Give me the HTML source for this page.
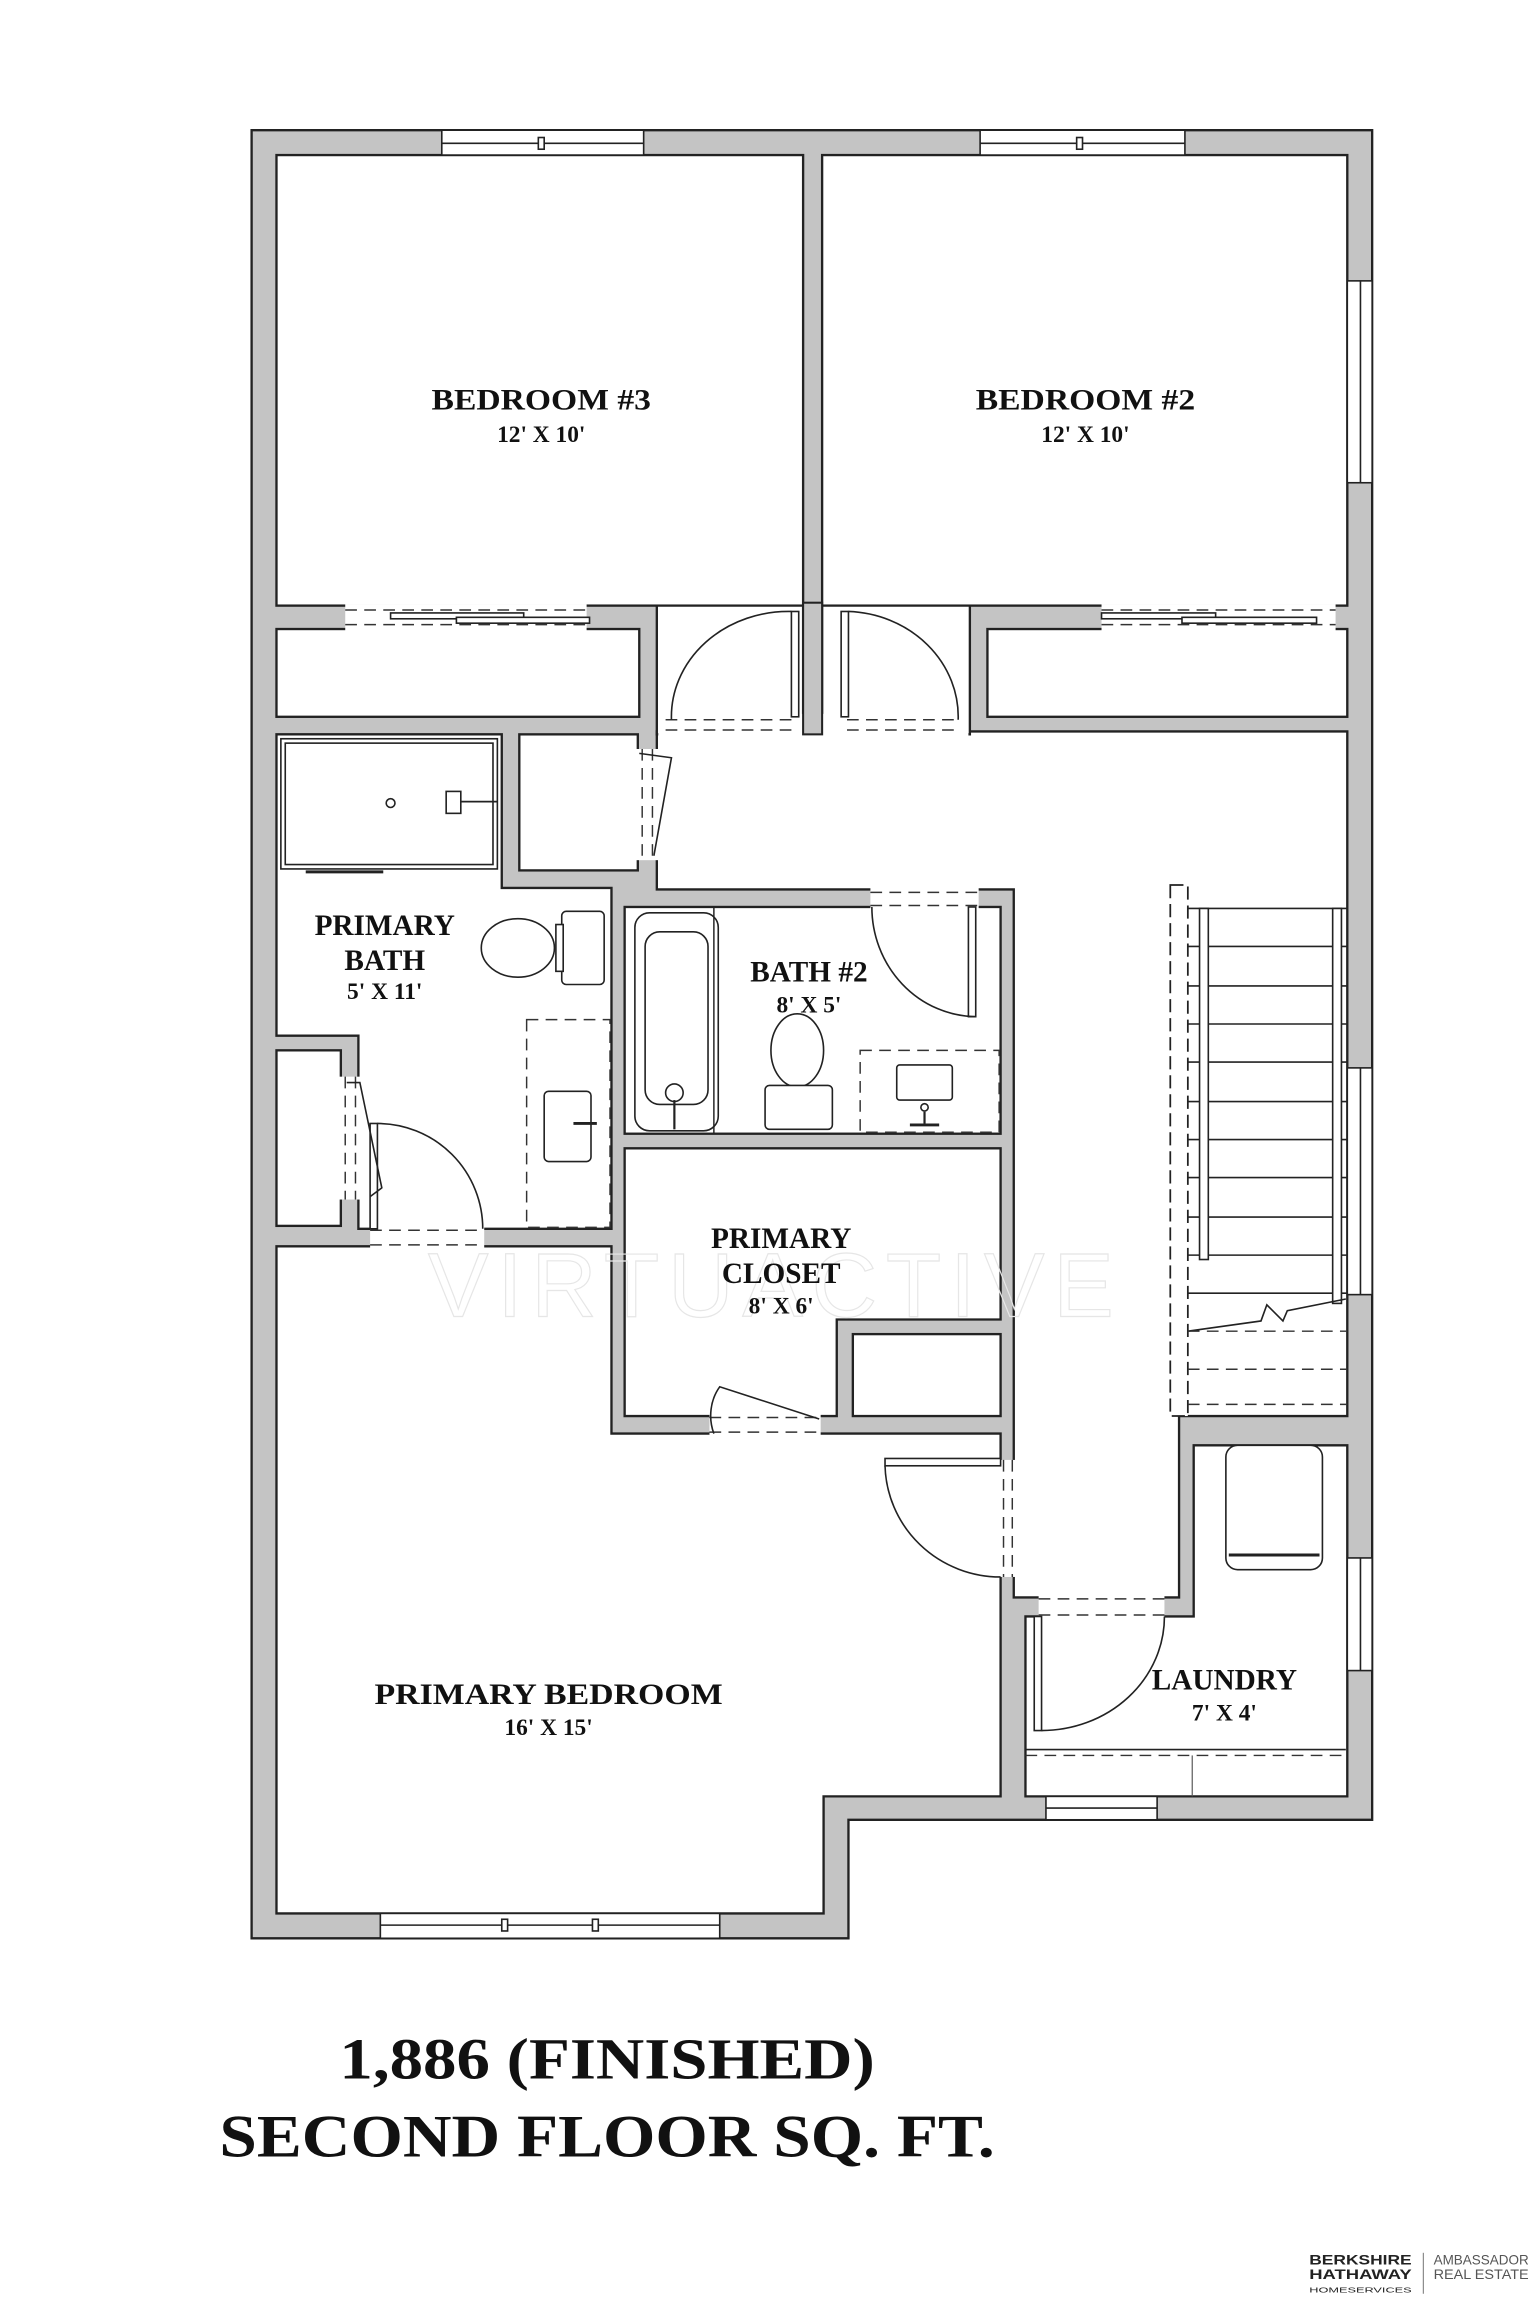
<!DOCTYPE html>
<html><head><meta charset="utf-8"><style>
html,body{margin:0;padding:0;background:#fff;}
svg{display:block;}
.w{fill:#c4c4c4;stroke:#222;stroke-width:1.6;stroke-linejoin:miter;}
.r{fill:#fff;stroke:#222;stroke-width:1.6;}
.t{font-family:"Liberation Serif",serif;font-weight:bold;fill:#111;text-anchor:middle;}
.ln{fill:none;stroke:#222;stroke-width:1.1;}
.ds{fill:none;stroke:#333;stroke-width:1;stroke-dasharray:8 5;}
.fx{fill:#fff;stroke:#222;stroke-width:1.1;}
</style></head><body>
<svg width="1536" height="2304" viewBox="0 0 1050 1575" xmlns="http://www.w3.org/2000/svg">
<rect width="1050" height="1575" fill="#fff"/>
<!-- footprint -->
<polygon class="w" points="172,89 938,89 938,1244 580,1244 580,1325 172,1325"/>
<!-- rooms -->
<rect class="r" x="189" y="106" width="360" height="308"/>
<rect class="r" x="562" y="106" width="359" height="308"/>
<rect class="r" x="189" y="430" width="248" height="60"/>
<rect class="r" x="675" y="430" width="246" height="60"/>
<polygon class="r" points="449,500 921,500 921,968 806,968 806,1092 693,1092 693,608 449,608"/>
<polygon class="r" points="449,502 449,414 549,414 549,490 562,490 562,414 663,414 663,502"/>
<rect x="450" y="488" width="212" height="16" fill="#fff"/>
<rect class="r" x="355" y="502" width="81" height="93"/>
<polygon class="r" points="189,502 343,502 343,607 418,607 418,840 245,840 245,708 189,708"/>
<rect class="r" x="189" y="718" width="44" height="120"/>
<rect class="r" x="427" y="620" width="257" height="155"/>
<polygon class="r" points="427,785 684,785 684,902 572,902 572,968 427,968"/>
<rect class="r" x="583" y="912" width="101" height="56"/>
<polygon class="r" points="189,852 418,852 418,980 684,980 684,1228 563,1228 563,1308 189,1308"/>
<polygon class="r" points="701,1105 816,1105 816,988 921,988 921,1228 701,1228"/>
<!-- bedroom divider stub -->
<rect x="549" y="412" width="13" height="90" fill="#c4c4c4" stroke="#222" stroke-width="1.4"/>
<!-- openings (white over walls) -->
<g fill="#fff" stroke="none">
<rect x="455" y="489" width="86" height="13"/>
<rect x="579" y="489" width="77" height="13"/>
<rect x="236" y="413" width="165" height="19"/>
<rect x="753" y="413" width="160" height="19"/>
<rect x="435" y="512" width="16" height="76"/>
<rect x="595" y="606" width="74" height="16"/>
<rect x="253" y="838" width="78" height="16"/>
<rect x="232" y="736" width="15" height="84"/>
<rect x="485" y="966" width="76" height="16"/>
<rect x="682" y="998" width="13" height="80"/>
<rect x="710" y="1090" width="86" height="17"/>
</g>
<g class="ds">
<line x1="455" y1="492" x2="541" y2="492"/><line x1="455" y1="499" x2="541" y2="499"/>
<line x1="579" y1="492" x2="656" y2="492"/><line x1="579" y1="499" x2="656" y2="499"/>
<line x1="236" y1="417" x2="401" y2="417"/><line x1="236" y1="427" x2="401" y2="427"/>
<line x1="753" y1="417" x2="913" y2="417"/><line x1="753" y1="427" x2="913" y2="427"/>
<line x1="439" y1="512" x2="439" y2="588"/><line x1="446" y1="512" x2="446" y2="588"/>
<line x1="595" y1="610" x2="669" y2="610"/><line x1="595" y1="619" x2="669" y2="619"/>
<line x1="253" y1="841" x2="331" y2="841"/><line x1="253" y1="851" x2="331" y2="851"/>
<line x1="236" y1="736" x2="236" y2="820"/><line x1="243" y1="736" x2="243" y2="820"/>
<line x1="485" y1="969" x2="561" y2="969"/><line x1="485" y1="979" x2="561" y2="979"/>
<line x1="686" y1="998" x2="686" y2="1078"/><line x1="692" y1="998" x2="692" y2="1078"/>
<line x1="710" y1="1093" x2="796" y2="1093"/><line x1="710" y1="1104" x2="796" y2="1104"/>
</g>
<!-- sliding closet panels -->
<rect class="fx" x="267" y="419" width="91" height="4"/><rect class="fx" x="312" y="422" width="91" height="4"/>
<rect class="fx" x="753" y="419" width="78" height="4"/><rect class="fx" x="808" y="422" width="92" height="4"/>
<!-- doors -->
<g class="ln">
<rect x="541" y="418" width="5" height="72" fill="#fff"/>
<path d="M541,418 A80,72 0 0 0 459,492"/>
<rect x="575" y="418" width="5" height="72" fill="#fff"/>
<path d="M580,418 A78,72 0 0 1 655,492"/>
<rect x="662" y="620" width="5" height="75" fill="#fff"/>
<path d="M596,620 A72,75 0 0 0 667,695"/>
<rect x="253" y="768" width="5" height="72" fill="#fff"/>
<path d="M258,768 A72,72 0 0 1 330,840"/>
<path d="M488,980 A25,30 0 0 1 492,948 L560,970"/>
<rect x="605" y="997" width="79" height="5" fill="#fff"/>
<path d="M605,1002 A79,78 0 0 0 684,1078"/>
<rect x="707" y="1105" width="5" height="78" fill="#fff"/>
<path d="M712,1183 A84,78 0 0 0 796,1105"/>
<path d="M437,515 L459,518 L447,585"/>
<path d="M237,740 L246,740 L261,812 L253,818"/>
</g>
<!-- windows -->
<g class="fx">
<rect x="302" y="89" width="138" height="17"/><line x1="302" y1="98" x2="440" y2="98"/><rect x="368" y="94" width="4" height="8"/>
<rect x="670" y="89" width="140" height="17"/><line x1="670" y1="98" x2="810" y2="98"/><rect x="736" y="94" width="4" height="8"/>
<rect x="921" y="192" width="17" height="138"/><line x1="930" y1="192" x2="930" y2="330"/>
<rect x="921" y="730" width="17" height="155"/><line x1="930" y1="730" x2="930" y2="885"/>
<rect x="921" y="1065" width="17" height="77"/><line x1="930" y1="1065" x2="930" y2="1142"/>
<rect x="715" y="1228" width="76" height="16"/><line x1="715" y1="1236" x2="791" y2="1236"/>
<rect x="260" y="1308" width="232" height="17"/><line x1="260" y1="1316" x2="492" y2="1316"/><rect x="343" y="1312" width="4" height="8"/><rect x="405" y="1312" width="4" height="8"/>
</g>
<!-- stair -->
<rect x="800" y="605" width="12" height="363" fill="#fff" stroke="#222" stroke-width="1.2" stroke-dasharray="9 4"/>
<g class="ln">
<line x1="812" y1="621" x2="921" y2="621"/>
<line x1="812" y1="647" x2="921" y2="647"/><line x1="812" y1="674" x2="921" y2="674"/>
<line x1="812" y1="700" x2="921" y2="700"/><line x1="812" y1="726" x2="921" y2="726"/>
<line x1="812" y1="753" x2="921" y2="753"/><line x1="812" y1="779" x2="921" y2="779"/>
<line x1="812" y1="805" x2="921" y2="805"/><line x1="812" y1="832" x2="921" y2="832"/>
<line x1="812" y1="858" x2="921" y2="858"/><line x1="812" y1="884" x2="921" y2="884"/>
<rect x="820" y="621" width="6" height="240" fill="#fff"/>
<rect x="911" y="621" width="6" height="270" fill="#fff"/>
<polyline points="812,910 862,903 866,892 877,903 880,896 920,888"/>
</g>
<g class="ds"><line x1="812" y1="910" x2="921" y2="910"/><line x1="812" y1="936" x2="921" y2="936"/><line x1="812" y1="960" x2="921" y2="960"/></g>
<!-- primary bath shower -->
<rect class="fx" x="192" y="505" width="148" height="89" stroke-width="1.6"/>
<rect class="fx" x="195" y="508" width="142" height="83"/>
<line x1="209" y1="596" x2="262" y2="596" stroke="#222" stroke-width="2"/>
<circle cx="267" cy="549" r="3" class="fx"/>
<rect class="fx" x="305" y="541" width="10" height="15"/><line x1="315" y1="548" x2="340" y2="548" stroke="#222" stroke-width="1.2"/>
<!-- primary toilet -->
<rect class="fx" x="384" y="623" width="29" height="50" rx="3"/>
<rect class="fx" x="380" y="632" width="5" height="32"/>
<ellipse class="fx" cx="354" cy="648" rx="25" ry="20"/>
<!-- primary vanity -->
<rect x="360" y="697" width="57" height="142" fill="none" stroke="#333" stroke-width="1" stroke-dasharray="8 5"/>
<rect class="fx" x="372" y="746" width="32" height="48" rx="3"/>
<line x1="392" y1="768" x2="408" y2="768" stroke="#222" stroke-width="2"/>
<!-- tub -->
<rect class="fx" x="434" y="624" width="57" height="149" rx="10"/>
<rect class="fx" x="441" y="637" width="43" height="118" rx="10"/>
<circle cx="461" cy="747" r="6" class="fx"/><line x1="461" y1="752" x2="461" y2="772" stroke="#222" stroke-width="1.5"/>
<line x1="488" y1="620" x2="488" y2="775" stroke="#222" stroke-width="1"/>
<!-- bath2 toilet -->
<ellipse class="fx" cx="545" cy="718" rx="18" ry="25"/>
<rect class="fx" x="523" y="742" width="46" height="30" rx="3"/>
<!-- bath2 vanity -->
<rect x="588" y="718" width="95" height="56" fill="none" stroke="#333" stroke-width="1" stroke-dasharray="8 5"/>
<rect class="fx" x="613" y="728" width="38" height="24" rx="2"/>
<circle cx="632" cy="757" r="2.5" class="fx"/><line x1="632" y1="760" x2="632" y2="768" stroke="#222" stroke-width="1.5"/><line x1="622" y1="769" x2="642" y2="769" stroke="#222" stroke-width="2"/>
<!-- washer/dryer -->
<rect class="fx" x="838" y="988" width="66" height="85" rx="8"/>
<line x1="840" y1="1063" x2="902" y2="1063" stroke="#222" stroke-width="2"/>
<!-- laundry shelf -->
<line x1="701" y1="1196" x2="920" y2="1196" class="ln"/>
<line x1="701" y1="1200" x2="921" y2="1200" class="ds"/>
<line x1="815" y1="1200" x2="815" y2="1228" stroke="#555" stroke-width="0.8"/>
<!-- watermark -->
<text x="530" y="900" font-family="Liberation Sans,sans-serif" font-size="62" fill="none" stroke="#e6e6e6" stroke-width="0.8" text-anchor="middle" letter-spacing="6">VIRTUACTIVE</text>
<!-- labels -->
<text class="t" x="370" y="280" font-size="20" textLength="150" lengthAdjust="spacingAndGlyphs">BEDROOM #3</text>
<text class="t" x="370" y="302" font-size="16">12' X 10'</text>
<text class="t" x="742" y="280" font-size="20" textLength="150" lengthAdjust="spacingAndGlyphs">BEDROOM #2</text>
<text class="t" x="742" y="302" font-size="16">12' X 10'</text>
<text class="t" x="263" y="639" font-size="20">PRIMARY</text>
<text class="t" x="263" y="663" font-size="20">BATH</text>
<text class="t" x="263" y="683" font-size="16">5' X 11'</text>
<text class="t" x="553" y="671" font-size="20">BATH #2</text>
<text class="t" x="553" y="692" font-size="16">8' X 5'</text>
<text class="t" x="534" y="853" font-size="20">PRIMARY</text>
<text class="t" x="534" y="877" font-size="20">CLOSET</text>
<text class="t" x="534" y="898" font-size="16">8' X 6'</text>
<text class="t" x="375" y="1165" font-size="20" textLength="238" lengthAdjust="spacingAndGlyphs">PRIMARY BEDROOM</text>
<text class="t" x="375" y="1186" font-size="16">16' X 15'</text>
<text class="t" x="837" y="1155" font-size="20">LAUNDRY</text>
<text class="t" x="837" y="1176" font-size="16">7' X 4'</text>
<text class="t" x="415" y="1421" font-size="40" textLength="366" lengthAdjust="spacingAndGlyphs">1,886 (FINISHED)</text>
<text class="t" x="415" y="1474" font-size="41" textLength="530" lengthAdjust="spacingAndGlyphs">SECOND FLOOR SQ. FT.</text>
<!-- logo -->
<g font-family="Liberation Sans,sans-serif" fill="#222">
<text x="895" y="1548" font-size="9.5" font-weight="bold" textLength="70" lengthAdjust="spacingAndGlyphs">BERKSHIRE</text>
<text x="895" y="1558" font-size="9.5" font-weight="bold" textLength="70" lengthAdjust="spacingAndGlyphs">HATHAWAY</text>
<text x="895" y="1567" font-size="5" textLength="70" lengthAdjust="spacingAndGlyphs">HOMESERVICES</text>
<line x1="973" y1="1540" x2="973" y2="1568" stroke="#888" stroke-width="0.8"/>
<text x="980" y="1548" font-size="9.5" fill="#555" textLength="65" lengthAdjust="spacingAndGlyphs">AMBASSADOR</text>
<text x="980" y="1558" font-size="9.5" fill="#555" textLength="65" lengthAdjust="spacingAndGlyphs">REAL ESTATE</text>
</g>
</svg>
</body></html>
